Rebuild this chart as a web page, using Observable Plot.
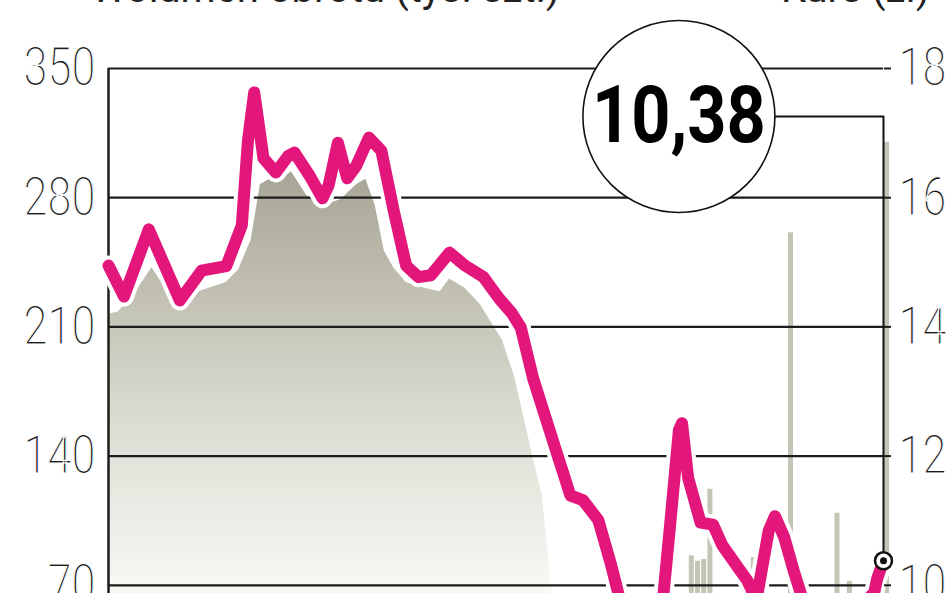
<!DOCTYPE html>
<html><head><meta charset="utf-8">
<script src="https://cdn.jsdelivr.net/npm/d3@7"></script>
<script src="https://cdn.jsdelivr.net/npm/@observablehq/plot@0.6"></script>
<style>
html,body{margin:0;padding:0;background:#fff;width:948px;height:593px;overflow:hidden;}
#wrap{position:relative;width:948px;height:593px;overflow:hidden;background:#fff;}
.title{position:absolute;top:-31px;font-family:Roboto,"DejaVu Sans",sans-serif;font-weight:400;font-size:40px;line-height:40px;color:#222;white-space:nowrap;}
#chart{position:absolute;left:0;top:0;}
g[aria-label="y-axis tick label"] text{stroke:#fff;stroke-width:1.2px;paint-order:normal;}
</style></head><body>
<div id="wrap">
<div id="chart"></div>
<div class="title" style="left:91px">Wolumen obrotu (tys. szt.)</div>
<div class="title" style="right:18px">Kurs (zł)</div>
</div>
<script>
// price (kurs, zł) – session index and value
const priceT = [0,5,13,23,30,38,43,45,47,50,54,58,60,65,69,71,74,77,80,84,88,92,96,100,104,110,115,121,126,130,133,137,144,149,153,158,162,165,170,175,179,181,184,185,187,191,195,198,203,206,209,213,215,218,221,224,230,236,243,247,248,250];
const priceV = [14.95,14.47,15.51,14.41,14.87,14.94,15.57,16.89,17.63,16.61,16.39,16.65,16.70,16.33,15.99,16.19,16.85,16.30,16.50,16.93,16.73,15.80,14.95,14.77,14.80,15.15,14.95,14.77,14.44,14.22,13.99,13.20,12.14,11.39,11.32,11.01,10.34,9.77,9.58,9.58,9.85,10.85,12.40,12.51,11.66,10.97,10.94,10.62,10.28,10.08,9.77,10.85,11.07,10.74,10.23,9.77,9.54,9.58,9.69,9.89,10.11,10.38];
// volume (tys. szt.) – smooth area part
const volT = [0,3,8,14,20,23,29,38,42,46,49,52,55,59,64,70,75,80,83,86,89,92,96,102,107,110,115,120,124,127,131,134,137,140,143,146,150];
const volV = [217,218,227,242,227,220,229,234,241,257,287,290,289,294,281,276,279,287,290,276,251,242,234,231,229,236,231,222,211,203,183,161,139,118,67,35,20];
// volume – single-session spikes
const spikeT = [188,190,192,194,208,220,235,239,251];
const spikeV = [86,83,84,122,85,261,109,72,310];
// axes
const leftTicks = [70,140,210,280,350];
const rightTicks = [10,12,14,16,18];
// callout placement (annotation, in chart units)
const calloutT = 184, calloutLevel = 324;

const toLeft = p => 70 + (p - 10) * 35;
const fromLeft = v => (v - 70) / 35 + 10;

const priceData = priceT.map((t, i) => ({t, p: priceV[i]}));
const volData = volT.map((t, i) => ({t, v: volV[i]}));
const spikeData = spikeT.map((t, i) => ({t, v: spikeV[i]}));
const last = priceData[priceData.length - 1];
const connector = [
  {t: last.t, v: toLeft(last.p)},
  {t: last.t, v: calloutLevel},
  {t: calloutT, v: calloutLevel}
];
const callout = {t: calloutT, v: calloutLevel, label: d3.format(".2f")(last.p).replace(".", ",")};

const chart = Plot.plot({
  width: 948, height: 734,
  marginLeft: 108, marginRight: 65, marginTop: 68, marginBottom: 20,
  x: {domain: [0, 250], axis: null, label: null},
  y: {domain: [0, 350], label: null},
  style: {fontFamily: "Roboto, 'DejaVu Sans', sans-serif", fontSize: "53px", fontWeight: 300, color: "#1a1a1a", background: "white", overflow: "visible"},
  marks: [
    Plot.areaY(volData, {x: "t", y: "v", fill: "url(#volGrad)"}),
    Plot.ruleX(spikeData, {x: "t", y1: 0, y2: "v", stroke: "#c4c5b5", strokeWidth: 5}),
    Plot.ruleY(leftTicks, {stroke: "#1c1c1c", strokeWidth: 2.2}),
    Plot.ruleX([0], {y1: 0, y2: 350, stroke: "#1c1c1c", strokeWidth: 2.5}),
    Plot.line(priceData, {x: "t", y: d => toLeft(d.p), stroke: "white", strokeWidth: 20, strokeLinejoin: "round", strokeLinecap: "round"}),
    Plot.line(priceData, {x: "t", y: d => toLeft(d.p), stroke: "#e3167c", strokeWidth: 12, strokeLinejoin: "round", strokeLinecap: "round"}),
    Plot.line(connector, {x: "t", y: "v", stroke: "#111", strokeWidth: 2}),
    Plot.dot([callout], {x: "t", y: "v", r: 96, fill: "white", stroke: "#111", strokeWidth: 1.6}),
    Plot.text([callout], {x: "t", y: "v", text: "label", fontSize: 80, fontWeight: 700, fill: "#000", lineAnchor: "middle"}),
    Plot.dot([last], {x: "t", y: d => toLeft(d.p), r: 8.5, fill: "white", stroke: "#111", strokeWidth: 2.5}),
    Plot.dot([last], {x: "t", y: d => toLeft(d.p), r: 3.5, fill: "#111"}),
    Plot.axisY({anchor: "left", ticks: leftTicks, tickSize: 0, tickPadding: 13, label: null}),
    Plot.axisY({anchor: "right", ticks: rightTicks.map(toLeft), tickFormat: d => String(fromLeft(d)), tickSize: 7, tickPadding: 8, strokeWidth: 2, label: null})
  ]
});

const ns = "http://www.w3.org/2000/svg";
const defs = document.createElementNS(ns, "defs");
const grad = document.createElementNS(ns, "linearGradient");
grad.setAttribute("id", "volGrad");
grad.setAttribute("x1", "0"); grad.setAttribute("y1", "0");
grad.setAttribute("x2", "0"); grad.setAttribute("y2", "1");
[[0, "#a6a493"], [0.05, "#adab9b"], [0.29, "#c8c8bb"], [0.52, "#e2e2da"], [0.76, "#f7f7f3"], [1, "#ffffff"]].forEach(([o, c]) => {
  const s = document.createElementNS(ns, "stop");
  s.setAttribute("offset", o);
  s.setAttribute("stop-color", c);
  grad.appendChild(s);
});
defs.appendChild(grad);
chart.insertBefore(defs, chart.firstChild);
// condense glyphs to match the narrow face of the original
chart.querySelectorAll('g[aria-label="y-axis tick label"] text').forEach(t => {
  t.setAttribute("textLength", t.textContent.length * 24);
  t.setAttribute("lengthAdjust", "spacingAndGlyphs");
});
chart.querySelectorAll('g[aria-label="text"] text').forEach(t => {
  t.setAttribute("textLength", 174);
  t.setAttribute("lengthAdjust", "spacingAndGlyphs");
});
document.getElementById("chart").appendChild(chart);
</script>
</body></html>
